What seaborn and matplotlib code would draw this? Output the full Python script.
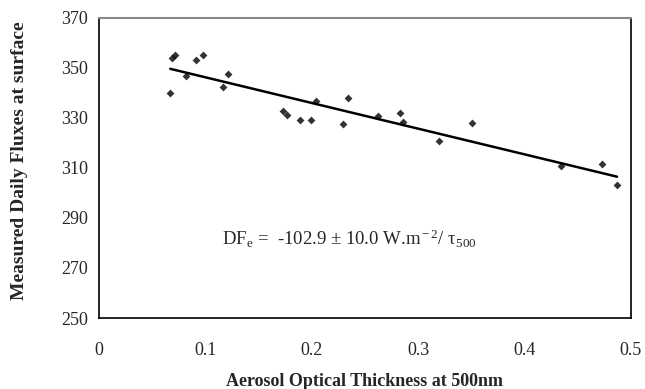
import numpy as np
import pandas as pd
import matplotlib.pyplot as plt
import seaborn as sns

# aerosol optical thickness (500nm) vs measured daily surface fluxes
aot = [0.067, 0.069, 0.071, 0.082, 0.091, 0.098, 0.117, 0.121, 0.173, 0.177,
       0.189, 0.199, 0.204, 0.229, 0.234, 0.262, 0.283, 0.286, 0.320, 0.351,
       0.434, 0.473, 0.487]
flux = [340.0, 354.0, 355.2, 346.8, 353.2, 355.2, 342.4, 347.6, 332.8, 331.2,
        329.2, 329.2, 336.8, 327.6, 338.0, 330.8, 332.0, 328.4, 320.8, 328.0,
        310.8, 311.6, 303.2]
xticks = [0, 0.1, 0.2, 0.3, 0.4, 0.5]
yticks = [250, 270, 290, 310, 330, 350, 370]

df = pd.DataFrame({"aot": aot, "flux": flux})

sns.set_style("white")
plt.rcParams['font.family'] = ['Liberation Serif', 'DejaVu Serif']
plt.rcParams['mathtext.fontset'] = 'custom'
plt.rcParams['mathtext.rm'] = 'Liberation Serif'
plt.rcParams['mathtext.it'] = 'Liberation Serif:italic'

fig = plt.figure(figsize=(6.45, 3.89), dpi=100)
ax = fig.add_axes([0.1535, 0.1825, 0.8245, 0.7715])

sns.regplot(x="aot", y="flux", data=df, ci=None, ax=ax,
            marker="D", color="black",
            scatter_kws={"s": 16, "linewidths": 0},
            line_kws={"lw": 1.8})

ax.set_xlim(0, 0.5)
ax.set_ylim(250, 370)
ax.set_xticks(xticks)
ax.set_xticklabels(["0", "0.1", "0.2", "0.3", "0.4", "0.5"])
ax.set_yticks(yticks)
ax.tick_params(axis="both", direction="out", length=5, width=1, color="#555555",
               labelsize=13, pad=12)
ax.tick_params(axis="y", pad=3)

for side in ["left", "bottom", "right"]:
    ax.spines[side].set_color("black")
    ax.spines[side].set_linewidth(1.2)
ax.spines["top"].set_color("#888888")
ax.spines["top"].set_linewidth(1.5)

ax.set_xlabel("Aerosol Optical Thickness at 500nm", fontsize=13,
              fontweight="bold", labelpad=10)
ax.set_ylabel("Measured Daily Fluxes at surface", fontsize=14,
              fontweight="bold")
ax.yaxis.set_label_coords(-0.134, 0.523)

ax.text(0.116, 281.5, r"DF$_{\rm e}$ =  -102.9 ± 10.0 W.m$^{\rm -2}$/ τ$_{\rm 500}$",
        fontsize=13.5, va="center", ha="left")

fig.savefig("out.png", dpi=100)
